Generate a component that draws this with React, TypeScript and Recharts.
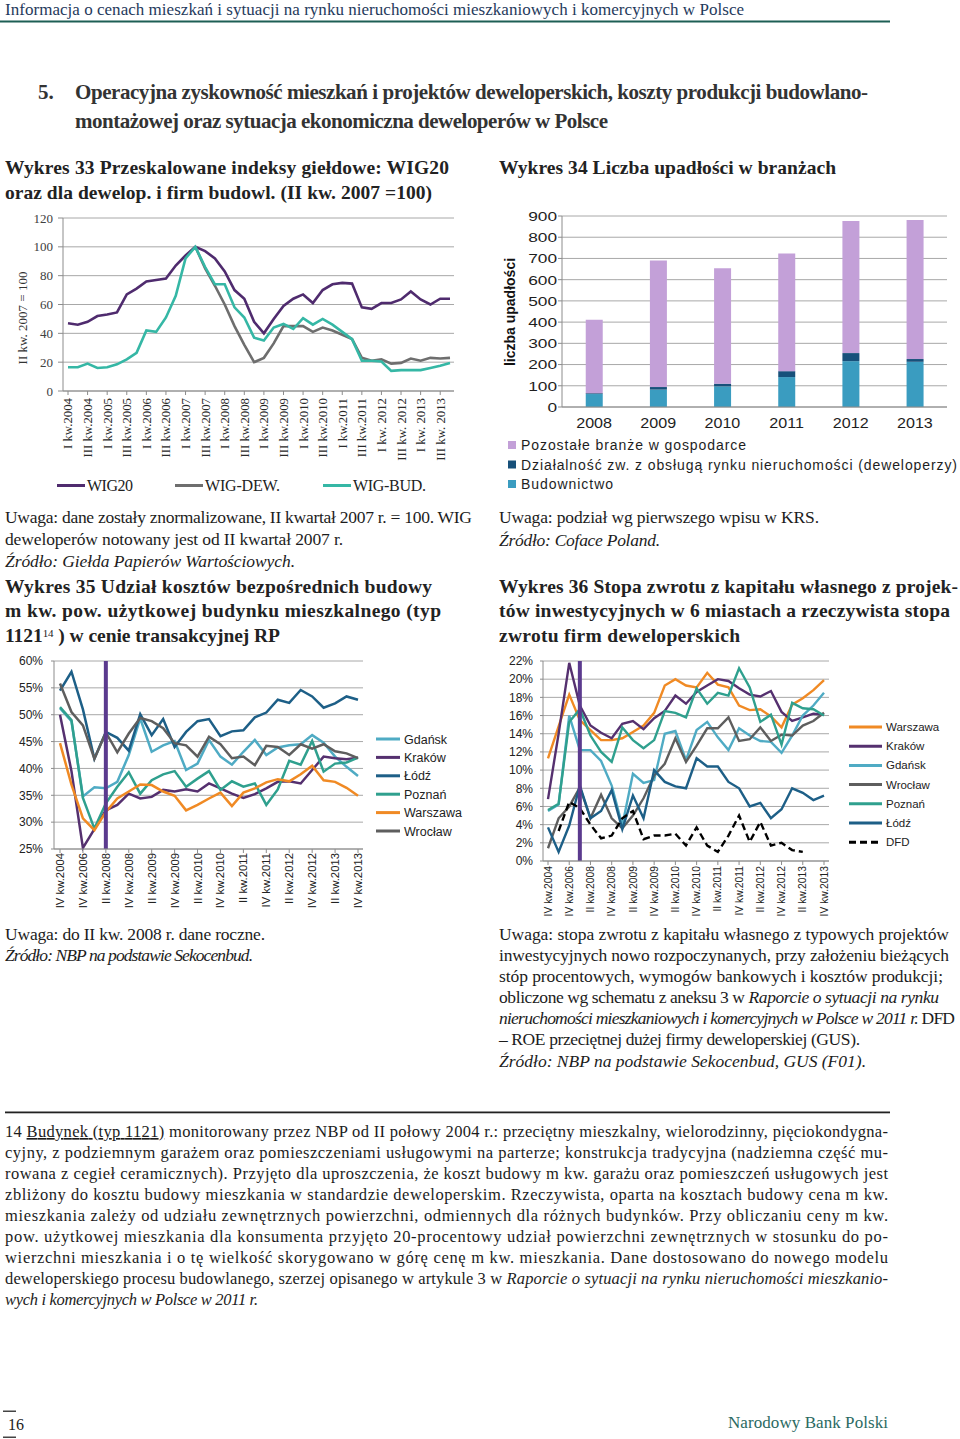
import React from 'react';
import { LineChart, Line, BarChart, Bar, XAxis, YAxis, CartesianGrid, ReferenceLine } from 'recharts';

const SERIF = '"Liberation Serif", "DejaVu Serif", serif';
const SANS = '"Liberation Sans", Arial, sans-serif';
const GRID = '#a8a8a8';
const AXIS = '#8c8c8c';

// Wykres 33 – indeksy giełdowe (II kw. 2007 = 100)
const quarters33 = [
  'I kw.2004', 'II kw.2004', 'III kw.2004', 'IV kw.2004',
  'I kw.2005', 'II kw.2005', 'III kw.2005', 'IV kw.2005',
  'I kw.2006', 'II kw.2006', 'III kw.2006', 'IV kw.2006',
  'I kw.2007', 'II kw.2007', 'III kw.2007', 'IV kw.2007',
  'I kw.2008', 'II kw.2008', 'III kw.2008', 'IV kw.2008',
  'I kw.2009', 'II kw.2009', 'III kw.2009', 'IV kw.2009',
  'I kw.2010', 'II kw.2010', 'III kw.2010', 'IV kw.2010',
  'I kw.2011', 'II kw.2011', 'III kw.2011', 'IV kw.2011',
  'I kw. 2012', 'II kw. 2012', 'III kw. 2012', 'IV kw. 2012',
  'I kw. 2013', 'II kw. 2013', 'III kw. 2013', 'IV kw. 2013',
];
const wig20 = [47, 46, 48, 52, 53, 54.5, 67, 71, 76, 77, 78, 87, 94, 100, 97, 92, 83, 70, 64, 48, 40, 50, 59, 64, 67, 61, 70, 74, 75, 74.5, 58, 57, 61, 61, 63.5, 69, 63.5, 60, 64, 64];
const wigDew = [null, null, null, null, null, null, null, null, null, null, null, null, null, 100, 85, 73, 60, 45, 32, 20, 23, 33, 45, 45, 45, 41, 44, 42, 39, 36, 23, 21, 22, 19, 19.5, 22.5, 21, 23, 22.5, 23];
const wigBud = [16.5, 16.5, 19, 16, 16.5, 18.5, 22, 26.5, 42, 41, 51, 66, 92, 100, 86, 74, 74, 58, 51, 37, 35, 44, 46.5, 43, 50.5, 46, 50, 46, 41, 36, 21, 21, 20.5, 14, 14.5, 14.5, 14.5, 16, 17.5, 19.5];
const series33 = [
  { key: 'wig20', name: 'WIG20', color: '#4f2b6e' },
  { key: 'wigDew', name: 'WIG-DEW.', color: '#6e6e6e' },
  { key: 'wigBud', name: 'WIG-BUD.', color: '#35b7a5' },
];
const data33 = quarters33.map((q, i) => ({ q, wig20: wig20[i], wigDew: wigDew[i], wigBud: wigBud[i] }));

// Wykres 34 – liczba upadłości
const years34 = ['2008', '2009', '2010', '2011', '2012', '2013'];
const budownictwo = [61, 82, 97, 141, 216, 213];
const deweloperzy = [4, 12, 13, 28, 38, 13];
const pozostale = [346, 596, 544, 554, 622, 655];
const data34 = years34.map((y, i) => ({ y, bud: budownictwo[i], dew: deweloperzy[i], poz: pozostale[i] }));

// Wykres 35 i 36 – wspólna oś czasu (do II kw. 2008 dane roczne)
const periods = [
  'IV kw.2004', 'IV kw.2005', 'IV kw.2006', 'IV kw.2007',
  'II kw.2008', 'III kw.2008', 'IV kw.2008',
  'I kw.2009', 'II kw.2009', 'III kw.2009', 'IV kw.2009',
  'I kw.2010', 'II kw.2010', 'III kw.2010', 'IV kw.2010',
  'I kw.2011', 'II kw.2011', 'III kw.2011', 'IV kw.2011',
  'I kw.2012', 'II kw.2012', 'III kw.2012', 'IV kw.2012',
  'I kw.2013', 'II kw.2013', 'III kw.2013', 'IV kw.2013',
];

const gdansk35 = [51.2, 48.8, 34.8, 36.5, 36.3, 37.5, 42.5, 49.3, 43.1, 44.3, 45.1, 39.7, 40.9, 45.3, 42.2, 40.7, 43.1, 45.3, 42.5, 43.9, 44.3, 44.5, 46.2, 44.8, 42.2, 40.3, 38.6];
const krakow35 = [50, 39.5, 25.2, 28.7, 32.2, 33.2, 35.3, 34.4, 34.7, 36, 35.7, 36.1, 35.7, 37.2, 36.3, 35.3, 34.5, 35.2, 36.3, 37.5, 37.6, 37.2, 39.7, 42.2, 41.9, 41.7, 42];
const lodz35 = [54.5, 58, 51, 41.8, 46.8, 45.7, 43.3, 50.1, 46.2, 49.2, 44, 46.8, 48.8, 49.2, 46, 46.9, 47.1, 49.5, 50.4, 52.8, 52.2, 54.6, 53.4, 51.3, 52.1, 53.4, 52.8];
const poznan35 = [51.4, 49, 34.5, 28.8, 33.5, 36.6, 39.3, 35.3, 37.8, 38.9, 39.5, 36.6, 38.1, 39.5, 36, 37.6, 36.6, 37.2, 33.2, 36.1, 41.4, 40.7, 45.1, 39.4, 40.9, 41.1, 42];
const warszawa35 = [44.7, 37, 30.7, 28.5, 31.9, 34.4, 35.7, 37, 36.9, 35.7, 34.9, 32.2, 33.2, 34.4, 35.5, 33, 35.5, 36.3, 37.4, 38, 37.6, 38.9, 40.5, 37.8, 37.5, 36.4, 34.9];
const wroclaw35 = [55.8, 50.5, 48, 41.8, 46.7, 43, 46.5, 49.4, 48.8, 47.5, 44.7, 44.3, 42.2, 45.9, 44.5, 41.9, 42.2, 40.6, 44.2, 44, 42.5, 44.5, 43.7, 44.5, 43.2, 42.8, 41.9];

const warszawa36 = [11.3, 14.8, 18.3, 15.5, 14.4, 13.3, 13.3, 13.5, 14.2, 14.9, 16.3, 19.3, 20, 19.3, 19.1, 20.7, 19.4, 19.1, 17.1, 16.6, 16.7, 15.9, 14.7, 17.2, 17.9, 18.8, 19.9];
const krakow36 = [6.8, 14, 21.8, 17.1, 14.9, 14.1, 13.5, 15.1, 15.4, 14.5, 15.7, 16.5, 18.2, 17.3, 18.6, 19.3, 20, 19.8, 19, 18.3, 18.1, 18.7, 16.4, 15.4, 15.8, 16.2, 16.1];
const gdansk36 = [5.5, 6.2, 16, 12.2, 12.2, 11, 8.3, 3.9, 9.6, 8.6, 8.9, 14, 14.3, 11.1, 14.4, 15.3, 13.6, 12.2, 14.6, 13.8, 13.2, 13.1, 11.9, 13.8, 16, 17.1, 18.5];
const wroclaw36 = [1.4, 4.7, 6, 8.1, 4.7, 7.3, 4.7, 3.6, 5, 6.9, 9.4, 10.7, 13.5, 10.9, 12.7, 14.6, 14.6, 15.8, 13.2, 13.4, 14.7, 13.2, 13.9, 13.8, 14.9, 15.4, 16.3];
const poznan36 = [5.6, 6.3, 15.3, 16.7, 13.8, 12, 10.9, 14.7, 13.3, 12.4, 13.3, 16.5, 16.3, 15.8, 19, 17.3, 18.5, 18.2, 21.2, 19.1, 15.3, 16.1, 12.8, 17.4, 16.8, 16.7, 16];
const lodz36 = [3.7, 1, 3.9, 8.3, 4.7, 5.5, 7.8, 3.5, 7.2, 4.7, 10, 8.7, 8.2, 8, 11.3, 10.4, 10.4, 8.7, 8, 6, 6.4, 4.7, 5.7, 8, 7.5, 6.7, 7.2];
const dfd36 = [null, 3.3, 6.5, 5.8, 4, 2.5, 2.8, 4.7, 5.5, 2.4, 2.8, 2.8, 3, 1.7, 3.7, 1.7, 1, 2.8, 5, 2.1, 4.3, 1.7, 2, 1.2, 1, null, null];

const C = {
  gdansk: '#4fabc4',
  krakow: '#55306f',
  lodz: '#1d5f87',
  poznan: '#2fa08e',
  warszawa: '#f08a24',
  wroclaw: '#5e5e5e',
  dfd: '#000000',
  marker: '#5b3a8e',
};

const series35 = [
  { key: 'gdansk', name: 'Gdańsk', color: C.gdansk, values: gdansk35 },
  { key: 'krakow', name: 'Kraków', color: C.krakow, values: krakow35 },
  { key: 'lodz', name: 'Łódź', color: C.lodz, values: lodz35 },
  { key: 'poznan', name: 'Poznań', color: C.poznan, values: poznan35 },
  { key: 'warszawa', name: 'Warszawa', color: C.warszawa, values: warszawa35 },
  { key: 'wroclaw', name: 'Wrocław', color: C.wroclaw, values: wroclaw35 },
];
const series36 = [
  { key: 'warszawa', name: 'Warszawa', color: C.warszawa, values: warszawa36 },
  { key: 'krakow', name: 'Kraków', color: C.krakow, values: krakow36 },
  { key: 'gdansk', name: 'Gdańsk', color: C.gdansk, values: gdansk36 },
  { key: 'wroclaw', name: 'Wrocław', color: C.wroclaw, values: wroclaw36 },
  { key: 'poznan', name: 'Poznań', color: C.poznan, values: poznan36 },
  { key: 'lodz', name: 'Łódź', color: C.lodz, values: lodz36 },
  { key: 'dfd', name: 'DFD', color: C.dfd, values: dfd36, dashed: true },
];
const toRows = (series: any[]) =>
  periods.map((p, i) => {
    const row: any = { p };
    series.forEach((s) => (row[s.key] = s.values[i]));
    return row;
  });
const data35 = toRows(series35);
const data36 = toRows(series36);

// rotated category label (reads bottom to top)
const RotTick = (props: any) => {
  const { x, y, payload, fontSize, fontFamily, fill } = props;
  return (
    <g transform={`translate(${x},${y})`}>
      <text x={0} y={0} dy="0.35em" transform="rotate(-90)" textAnchor="end" fontSize={fontSize} fontFamily={fontFamily} fill={fill}>
        {payload.value}
      </text>
    </g>
  );
};

// the bar chart in the source is stretched sideways, so its labels are too
const WideTick = (props: any) => {
  const { x, y, payload, anchor, fontSize, sx, dy } = props;
  return (
    <g transform={`translate(${x},${y}) scale(${sx},1)`}>
      <text textAnchor={anchor} dy={dy} fontSize={fontSize} fontFamily={SANS} fill="#1e1e1e">
        {payload.value}
      </text>
    </g>
  );
};

type TP = {
  x: number; y: number; w?: number; size?: number; italic?: boolean; bold?: boolean;
  fill?: string; family?: string; children: React.ReactNode;
};
const T = ({ x, y, w, size = 17.5, italic, bold, fill = '#1c1c1c', family = SERIF, children }: TP) => (
  <text
    x={x}
    y={y}
    textLength={w}
    lengthAdjust={w ? 'spacing' : undefined}
    fontSize={size}
    fontFamily={family}
    fontStyle={italic ? 'italic' : 'normal'}
    fontWeight={bold ? 700 : 400}
    fill={fill}
  >
    {children}
  </text>
);
const I = ({ children }: { children: React.ReactNode }) => <tspan fontStyle="italic">{children}</tspan>;

const TITLE = 19.5;
const FOOT = 16.5;

const notes36 = [
  { t: 'Uwaga: stopa zwrotu z kapitału własnego z typowych projektów', w: 450 },
  { t: 'inwestycyjnych nowo rozpoczynanych, przy założeniu bieżących', w: 450 },
  { t: 'stóp procentowych, wymogów bankowych i kosztów produkcji;', w: 444 },
];

const footnote = [
  'cyjny, z podziemnym garażem oraz pomieszczeniami usługowymi na parterze; konstrukcja tradycyjna (nadziemna część mu-',
  'rowana z cegieł ceramicznych). Przyjęto dla uproszczenia, że koszt budowy m kw. garażu oraz pomieszczeń usługowych jest',
  'zbliżony do kosztu budowy mieszkania w standardzie deweloperskim. Rzeczywista, oparta na kosztach budowy cena m kw.',
  'mieszkania zależy od udziału zewnętrznych powierzchni, odmiennych dla różnych budynków. Przy obliczaniu ceny m kw.',
  'pow. użytkowej mieszkania dla konsumenta przyjęto 20-procentowy udział powierzchni zewnętrznych w stosunku do po-',
  'wierzchni mieszkania i o tę wielkość skorygowano w górę cenę m kw. mieszkania. Dane dostosowano do nowego modelu',
];

const legend33 = [
  { lx: 57, tx: 87, w: 46 },
  { lx: 175, tx: 205, w: 75 },
  { lx: 323, tx: 353, w: 73 },
];
const legend34 = [
  { name: 'Pozostałe branże w gospodarce', color: '#c3a0d8', w: 225 },
  { name: 'Działalność zw. z obsługą rynku nieruchomości (deweloperzy)', color: '#17507a', w: 436 },
  { name: 'Budownictwo', color: '#3a9cc0', w: 92 },
];

export default function App() {
  return (
    <div style={{ position: 'absolute', left: 0, top: 0, width: 960, height: 1439, background: '#ffffff', overflow: 'hidden' }}>
      <svg width={960} height={1439} style={{ position: 'absolute', left: 0, top: 0 }}>
        {/* page header */}
        <T x={5} y={15} w={739} size={17} fill="#1f3a5c">
          Informacja o cenach mieszkań i sytuacji na rynku nieruchomości mieszkaniowych i komercyjnych w Polsce
        </T>
        <rect x={0} y={20.5} width={890} height={2} fill="#1d5f55" />

        <T x={38} y={99} size={21} bold fill="#333">5.</T>
        <T x={75} y={99} w={793} size={21} bold fill="#333">
          Operacyjna zyskowność mieszkań i projektów deweloperskich, koszty produkcji budowlano-
        </T>
        <T x={75} y={128} w={533} size={21} bold fill="#333">
          montażowej oraz sytuacja ekonomiczna deweloperów w Polsce
        </T>

        {/* left column */}
        <T x={5} y={174} w={444} size={TITLE} bold fill="#222">Wykres 33 Przeskalowane indeksy giełdowe: WIG20</T>
        <T x={5} y={199} w={427} size={TITLE} bold fill="#222">oraz dla dewelop. i firm budowl. (II kw. 2007 =100)</T>
        <text transform="translate(27,318) rotate(-90)" textAnchor="middle" fontSize={13} fontFamily={SERIF} fill="#333">
          II kw. 2007 = 100
        </text>
        {series33.map((s, i) => (
          <g key={s.key}>
            <rect x={legend33[i].lx} y={484} width={28} height={3} fill={s.color} />
            <T x={legend33[i].tx} y={490.5} w={legend33[i].w} size={16} fill="#222">{s.name}</T>
          </g>
        ))}
        <T x={5} y={523} w={467}>Uwaga: dane zostały znormalizowane, II kwartał 2007 r. = 100. WIG</T>
        <T x={5} y={545} w={338}>deweloperów notowany jest od II kwartał 2007 r.</T>
        <T x={5} y={567} w={290} italic>Źródło: Giełda Papierów Wartościowych.</T>
        <T x={5} y={593} w={427} size={TITLE} bold fill="#222">Wykres 35 Udział kosztów bezpośrednich budowy</T>
        <T x={5} y={617} w={436} size={TITLE} bold fill="#222">m kw. pow. użytkowej budynku mieszkalnego (typ</T>
        <T x={5} y={642} w={275} size={TITLE} bold fill="#222">
          1121<tspan dy={-5} fontSize={11} fontWeight={400}>14</tspan><tspan dy={5}> ) w cenie transakcyjnej RP</tspan>
        </T>
        {series35.map((s, i) => (
          <g key={s.key}>
            <rect x={376} y={737.5 + i * 18.4} width={24} height={3} fill={s.color} />
            <T x={404} y={743.5 + i * 18.4} size={12.5} family={SANS} fill="#222">{s.name}</T>
          </g>
        ))}
        <T x={5} y={940} w={260}>Uwaga: do II kw. 2008 r. dane roczne.</T>
        <T x={5} y={961} w={248} italic>Źródło: NBP na podstawie Sekocenbud.</T>

        {/* right column */}
        <T x={499} y={174} w={337} size={TITLE} bold fill="#222">Wykres 34 Liczba upadłości w branżach</T>
        <text transform="translate(515,312) rotate(-90)" textAnchor="middle" fontSize={14} fontWeight={700} fontFamily={SANS} fill="#111">
          liczba upadłości
        </text>
        {legend34.map((l, i) => (
          <g key={l.name}>
            <rect x={508} y={441 + i * 19.5} width={8} height={8} fill={l.color} />
            <T x={521} y={450 + i * 19.5} w={l.w} size={14} family={SANS} fill="#1e1e1e">{l.name}</T>
          </g>
        ))}
        <T x={499} y={523} w={320}>Uwaga: podział wg pierwszego wpisu w KRS.</T>
        <T x={499} y={546} w={161} italic>Źródło: Coface Poland.</T>
        <T x={499} y={593} w={459} size={TITLE} bold fill="#222">Wykres 36 Stopa zwrotu z kapitału własnego z projek-</T>
        <T x={499} y={617} w={451} size={TITLE} bold fill="#222">tów inwestycyjnych w 6 miastach a rzeczywista stopa</T>
        <T x={499} y={642} w={241} size={TITLE} bold fill="#222">zwrotu firm deweloperskich</T>
        {series36.map((s, i) => (
          <g key={s.key}>
            <line
              x1={849}
              x2={882}
              y1={727 + i * 19.2}
              y2={727 + i * 19.2}
              stroke={s.color}
              strokeWidth={3}
              strokeDasharray={s.dashed ? '7 4' : undefined}
            />
            <T x={886} y={731 + i * 19.2} size={11.5} family={SANS} fill="#222">{s.name}</T>
          </g>
        ))}
        {notes36.map((n, i) => (
          <T key={i} x={499} y={940 + i * 21} w={n.w}>{n.t}</T>
        ))}
        <T x={499} y={1003} w={440}>
          obliczone wg schematu z aneksu 3 w <I>Raporcie o sytuacji na rynku</I>
        </T>
        <T x={499} y={1024} w={456}>
          <I>nieruchomości mieszkaniowych i komercyjnych w Polsce w 2011 r.</I> DFD
        </T>
        <T x={499} y={1045} w={361}>– ROE przeciętnej dużej firmy deweloperskiej (GUS).</T>
        <T x={499} y={1067} w={367} italic>Źródło: NBP na podstawie Sekocenbud, GUS (F01).</T>

        {/* footnote */}
        <rect x={5} y={1111.5} width={885} height={1.8} fill="#222" />
        <T x={5} y={1137} w={883} size={FOOT}>
          14 <tspan style={{ textDecoration: 'underline' }}>Budynek (typ 1121)</tspan> monitorowany przez NBP od II połowy 2004 r.: przeciętny mieszkalny, wielorodzinny, pięciokondygna-
        </T>
        {footnote.map((line, i) => (
          <T key={i} x={5} y={1158 + i * 21} w={883} size={FOOT}>{line}</T>
        ))}
        <T x={5} y={1284} w={883} size={FOOT}>
          deweloperskiego procesu budowlanego, szerzej opisanego w artykule 3 w <I>Raporcie o sytuacji na rynku nieruchomości mieszkanio-</I>
        </T>
        <T x={5} y={1305} w={253} size={FOOT} italic>wych i komercyjnych w Polsce w 2011 r.</T>

        {/* page footer */}
        <rect x={3} y={1410.5} width={13} height={1.5} fill="#444" />
        <T x={8} y={1430} size={16} fill="#222">16</T>
        <rect x={3} y={1436.5} width={13} height={1.5} fill="#444" />
        <T x={728} y={1428} w={160} size={17} fill="#2b6a62">Narodowy Bank Polski</T>
      </svg>

      {/* Wykres 33 */}
      <div style={{ position: 'absolute', left: 0, top: 200 }}>
        <LineChart width={480} height={300} data={data33} margin={{ top: 18, right: 26, left: 0, bottom: 34 }}>
          <CartesianGrid vertical={false} stroke={GRID} />
          <XAxis
            dataKey="q"
            height={75}
            interval={1}
            padding={{ left: 5, right: 4 }}
            axisLine={{ stroke: AXIS }}
            tickLine={{ stroke: AXIS }}
            tickSize={4}
            tickMargin={3}
            tick={(p: any) => <RotTick {...p} fontSize={12.8} fontFamily={SERIF} fill="#2a2a2a" />}
          />
          <YAxis
            width={63}
            domain={[0, 120]}
            ticks={[0, 20, 40, 60, 80, 100, 120]}
            interval={0}
            axisLine={{ stroke: AXIS }}
            tickLine={{ stroke: AXIS }}
            tickSize={5}
            tickMargin={5}
            tick={{ fontSize: 13, fontFamily: SERIF, fill: '#404040' }}
          />
          {series33.map((s) => (
            <Line
              key={s.key}
              type="linear"
              dataKey={s.key}
              name={s.name}
              stroke={s.color}
              strokeWidth={2.6}
              dot={false}
              activeDot={false}
              isAnimationActive={false}
            />
          ))}
        </LineChart>
      </div>

      {/* Wykres 34 */}
      <div style={{ position: 'absolute', left: 495, top: 200 }}>
        <BarChart width={465} height={300} data={data34} margin={{ top: 16, right: 13, left: 0, bottom: 65 }} barCategoryGap="37%">
          <CartesianGrid vertical={false} stroke={GRID} />
          <XAxis
            dataKey="y"
            height={28}
            axisLine={{ stroke: AXIS }}
            tickLine={false}
            tickSize={6}
            tickMargin={4}
            tick={(p: any) => <WideTick {...p} anchor="middle" dy="0.75em" fontSize={14} sx={1.15} />}
          />
          <YAxis
            width={67}
            domain={[0, 900]}
            ticks={[0, 100, 200, 300, 400, 500, 600, 700, 800, 900]}
            interval={0}
            axisLine={{ stroke: AXIS }}
            tickLine={{ stroke: AXIS }}
            tickSize={4}
            tickMargin={1}
            tick={(p: any) => <WideTick {...p} anchor="end" dy="0.36em" fontSize={13.5} sx={1.28} />}
          />
          <Bar dataKey="bud" stackId="a" fill={legend34[2].color} isAnimationActive={false} />
          <Bar dataKey="dew" stackId="a" fill={legend34[1].color} isAnimationActive={false} />
          <Bar dataKey="poz" stackId="a" fill={legend34[0].color} isAnimationActive={false} />
        </BarChart>
      </div>

      {/* Wykres 35 */}
      <div style={{ position: 'absolute', left: 0, top: 650 }}>
        <LineChart width={480} height={270} data={data35} margin={{ top: 11, right: 117, left: 0, bottom: 9 }}>
          <CartesianGrid vertical={false} stroke={GRID} />
          <XAxis
            dataKey="p"
            height={62}
            interval={1}
            padding={{ left: 6, right: 5 }}
            axisLine={{ stroke: AXIS }}
            tickLine={{ stroke: AXIS }}
            tickSize={4}
            tickMargin={0}
            tick={(p: any) => <RotTick {...p} fontSize={11.3} fontFamily={SANS} fill="#222" />}
          />
          <YAxis
            width={54}
            domain={[25, 60]}
            ticks={[25, 30, 35, 40, 45, 50, 55, 60]}
            interval={0}
            axisLine={{ stroke: AXIS }}
            tickLine={{ stroke: AXIS }}
            tickSize={3}
            tickMargin={8}
            tickFormatter={(v: number) => `${v}%`}
            tick={{ fontSize: 12, fontFamily: SANS, fill: '#222' }}
          />
          {series35.map((s) => (
            <Line
              key={s.key}
              type="linear"
              dataKey={s.key}
              name={s.name}
              stroke={s.color}
              strokeWidth={2.5}
              dot={false}
              activeDot={false}
              isAnimationActive={false}
            />
          ))}
          <ReferenceLine x="II kw.2008" stroke={C.marker} strokeWidth={4} />
        </LineChart>
      </div>

      {/* Wykres 36 */}
      <div style={{ position: 'absolute', left: 495, top: 650 }}>
        <LineChart width={465} height={270} data={data36} margin={{ top: 11, right: 131, left: 0, bottom: 4 }}>
          <CartesianGrid vertical={false} stroke={GRID} />
          <XAxis
            dataKey="p"
            height={55}
            interval={1}
            padding={{ left: 5, right: 5 }}
            axisLine={{ stroke: AXIS }}
            tickLine={{ stroke: AXIS }}
            tickSize={4}
            tickMargin={1}
            tick={(p: any) => <RotTick {...p} fontSize={10.3} fontFamily={SANS} fill="#222" />}
          />
          <YAxis
            width={48}
            domain={[0, 22]}
            ticks={[0, 2, 4, 6, 8, 10, 12, 14, 16, 18, 20, 22]}
            interval={0}
            axisLine={{ stroke: AXIS }}
            tickLine={{ stroke: AXIS }}
            tickSize={3}
            tickMargin={7}
            tickFormatter={(v: number) => `${v}%`}
            tick={{ fontSize: 12, fontFamily: SANS, fill: '#222' }}
          />
          {series36.map((s) => (
            <Line
              key={s.key}
              type="linear"
              dataKey={s.key}
              name={s.name}
              stroke={s.color}
              strokeWidth={2.4}
              strokeDasharray={s.dashed ? '7 4' : undefined}
              dot={false}
              activeDot={false}
              isAnimationActive={false}
            />
          ))}
          <ReferenceLine x="IV kw.2007" stroke={C.marker} strokeWidth={4} />
        </LineChart>
      </div>
    </div>
  );
}
